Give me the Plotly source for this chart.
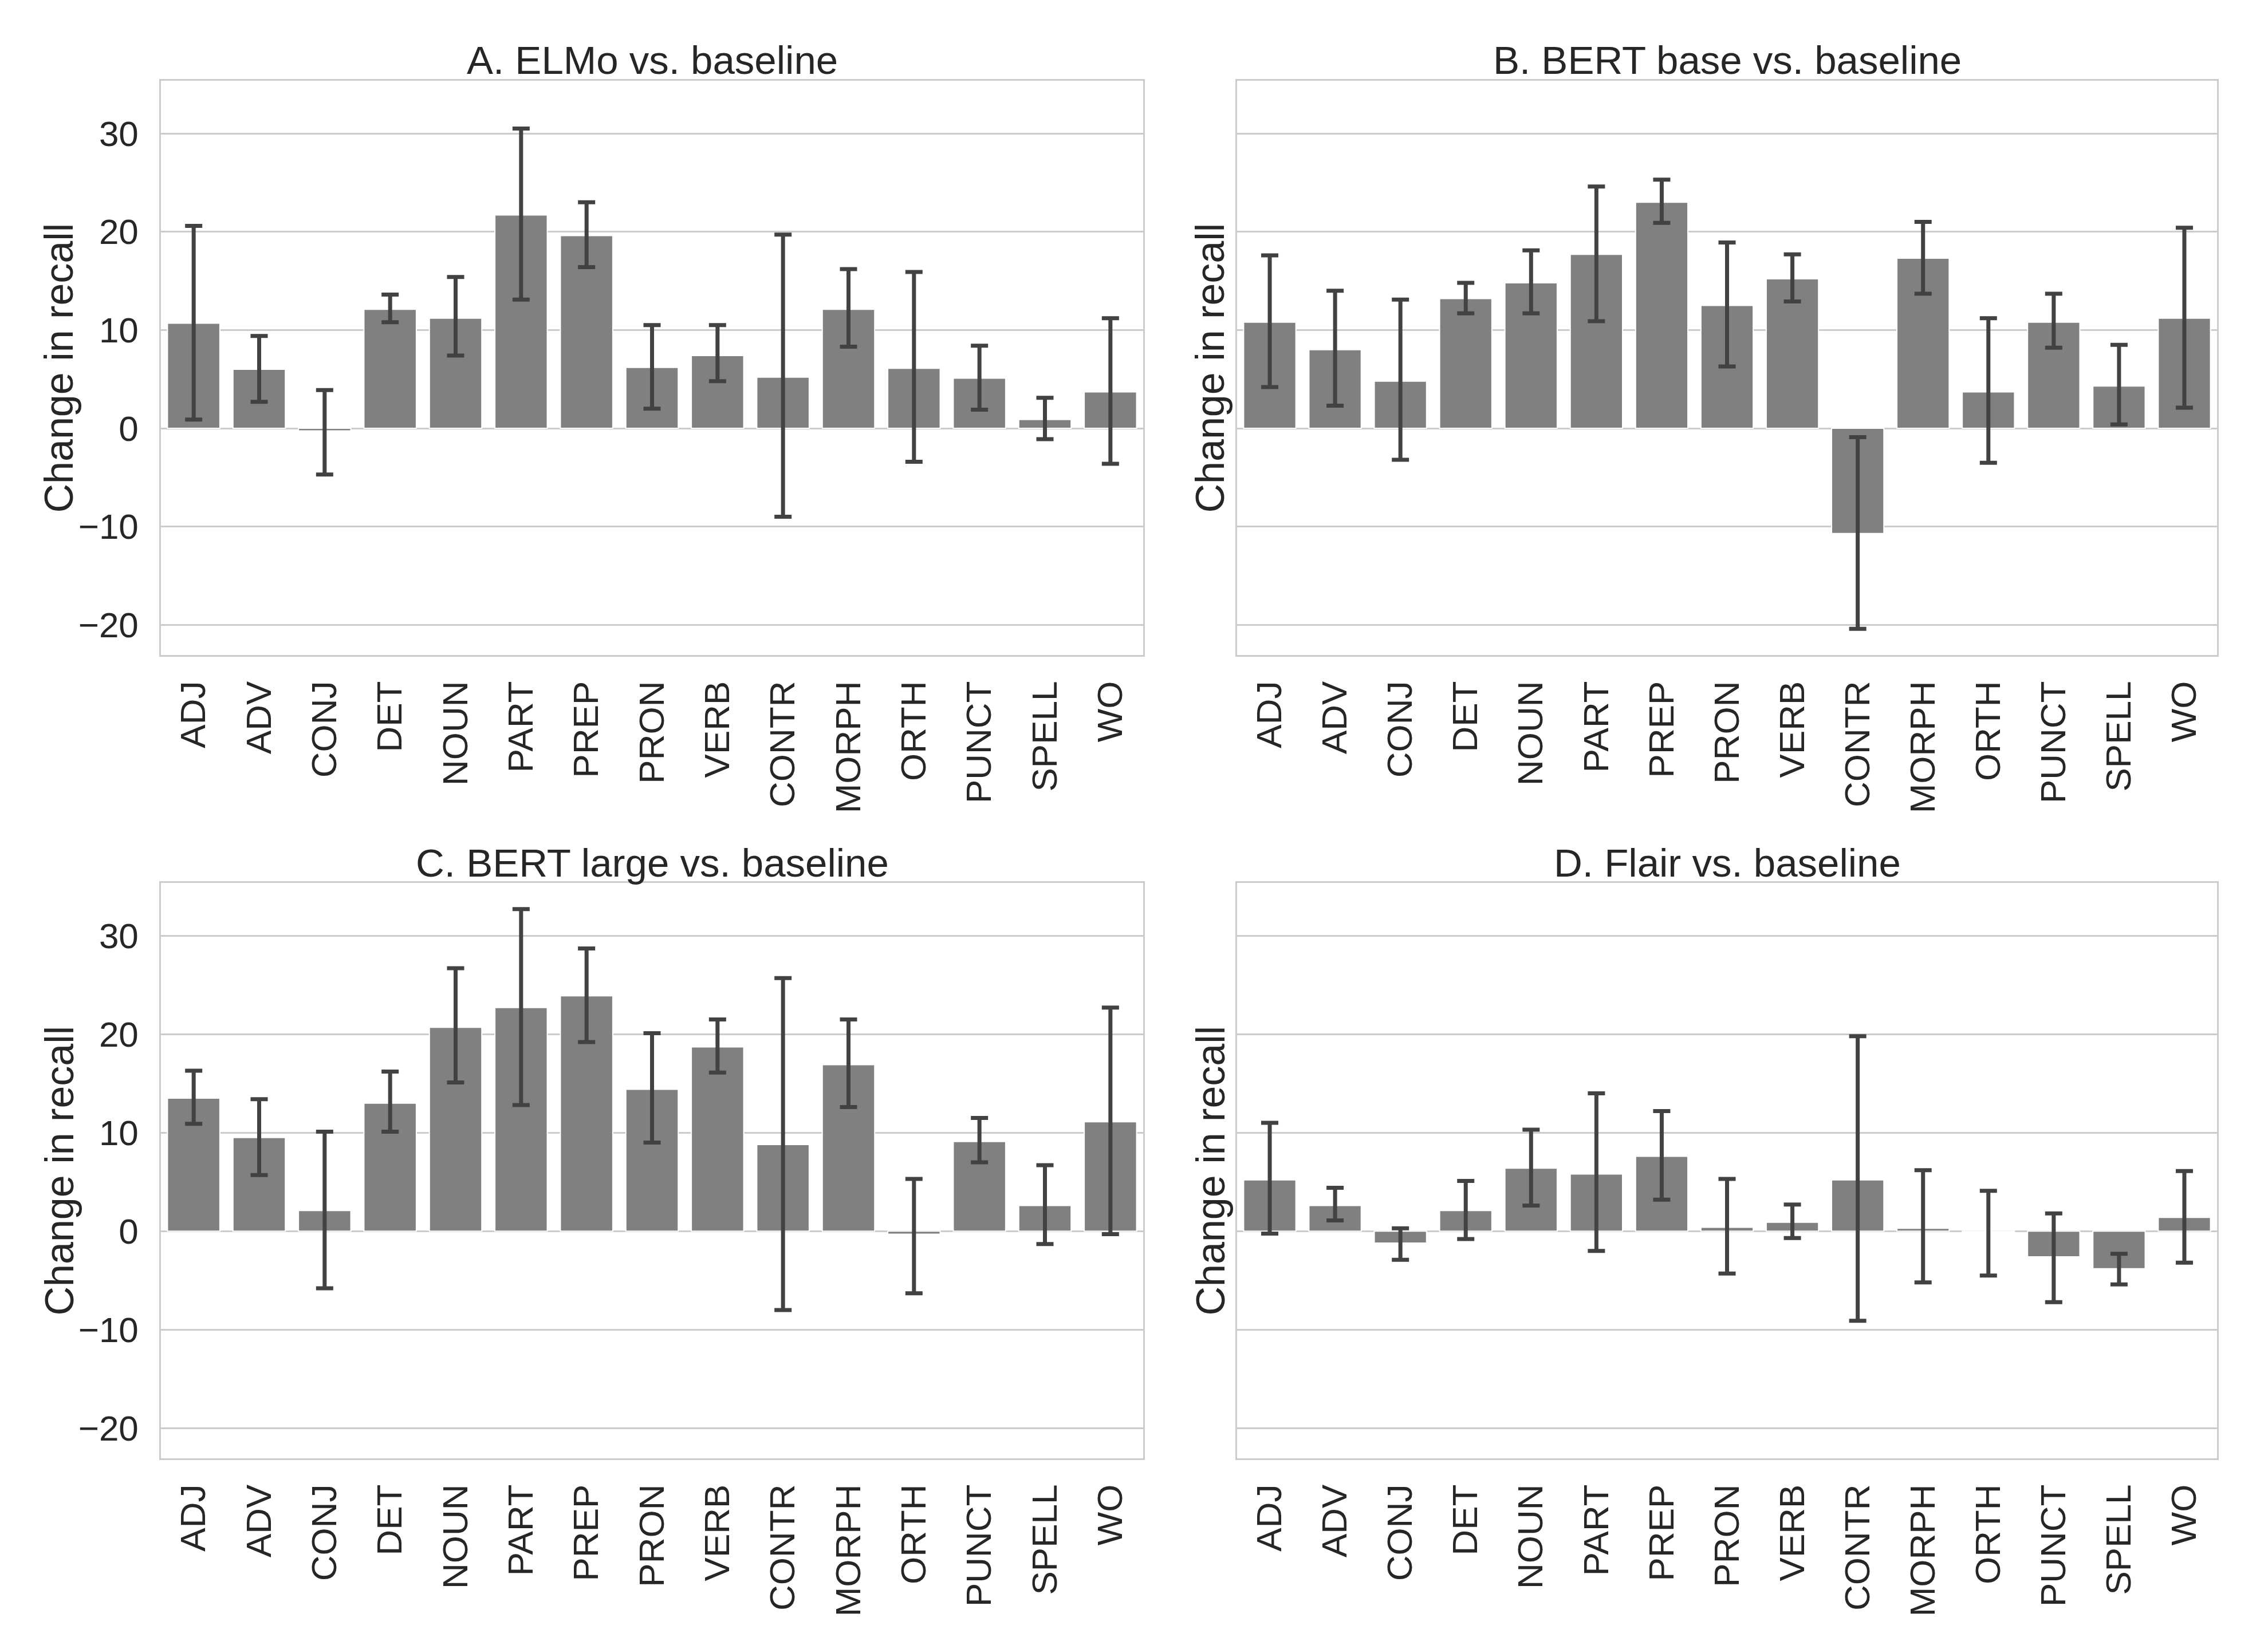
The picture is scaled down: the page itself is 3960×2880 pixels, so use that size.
import plotly.graph_objects as go

categories = ["ADJ", "ADV", "CONJ", "DET", "NOUN", "PART", "PREP", "PRON", "VERB",
              "CONTR", "MORPH", "ORTH", "PUNCT", "SPELL", "WO"]

titles = ["A. ELMo vs. baseline", "B. BERT base vs. baseline",
          "C. BERT large vs. baseline", "D. Flair vs. baseline"]

A_mean = [10.7, 6.0, -0.25, 12.1, 11.2, 21.7, 19.6, 6.2, 7.4, 5.2, 12.1, 6.1, 5.1, 0.9, 3.7]
A_low = [0.9, 2.7, -4.7, 10.8, 7.4, 13.1, 16.4, 2.0, 4.8, -9.0, 8.3, -3.4, 1.9, -1.1, -3.6]
A_high = [20.6, 9.4, 3.9, 13.6, 15.4, 30.5, 23.0, 10.5, 10.5, 19.7, 16.2, 15.9, 8.4, 3.1, 11.2]

B_mean = [10.8, 8.0, 4.8, 13.2, 14.8, 17.7, 23.0, 12.5, 15.2, -10.7, 17.3, 3.7, 10.8, 4.3, 11.2]
B_low = [4.2, 2.3, -3.2, 11.7, 11.7, 10.9, 20.9, 6.3, 12.9, -20.4, 13.7, -3.5, 8.2, 0.4, 2.1]
B_high = [17.6, 14.0, 13.1, 14.8, 18.1, 24.6, 25.3, 18.9, 17.7, -0.9, 21.0, 11.2, 13.7, 8.5, 20.4]

C_mean = [13.5, 9.5, 2.1, 13.0, 20.7, 22.7, 23.9, 14.4, 18.7, 8.8, 16.9, -0.3, 9.1, 2.6, 11.1]
C_low = [10.9, 5.7, -5.8, 10.1, 15.1, 12.8, 19.2, 9.0, 16.1, -8.0, 12.6, -6.3, 7.0, -1.3, -0.3]
C_high = [16.3, 13.4, 10.1, 16.2, 26.7, 32.7, 28.7, 20.1, 21.5, 25.7, 21.5, 5.3, 11.5, 6.7, 22.7]

D_mean = [5.2, 2.6, -1.2, 2.1, 6.4, 5.8, 7.6, 0.4, 0.9, 5.2, 0.3, -0.05, -2.6, -3.8, 1.4]
D_low = [-0.25, 1.1, -2.9, -0.8, 2.6, -2.0, 3.2, -4.3, -0.7, -9.1, -5.2, -4.5, -7.2, -5.4, -3.2]
D_high = [11.0, 4.4, 0.3, 5.1, 10.3, 14.0, 12.2, 5.3, 2.7, 19.8, 6.2, 4.1, 1.8, -2.3, 6.1]

y_ticks = [-20, -10, 0, 10, 20, 30]
y_range = [-23.06, 35.36]
y_label = "Change in recall"

panels = [(A_mean, A_low, A_high), (B_mean, B_low, B_high),
          (C_mean, C_low, C_high), (D_mean, D_low, D_high)]

W, H = 3960, 2880
x_doms = [[281 / W, 1996 / W], [2160 / W, 3871 / W]]
y_doms = [[1 - 1144 / H, 1 - 141 / H], [1 - 2547 / H, 1 - 1542 / H]]

FONT = "Liberation Sans, Arial, sans-serif"
TXT = "#262626"
GRID = "#cccccc"

fig = go.Figure()
layout = {}
annotations = []
for i, (m, lo, hi) in enumerate(panels):
    row, col = divmod(i, 2)
    n = "" if i == 0 else str(i + 1)
    plus = [h - v for h, v in zip(hi, m)]
    minus = [v - l for v, l in zip(m, lo)]
    fig.add_trace(go.Bar(
        x=categories, y=m, xaxis="x" + n, yaxis="y" + n,
        width=0.8,
        marker=dict(color="#808080", line=dict(color="white", width=2)),
        error_y=dict(type="data", symmetric=False, array=plus, arrayminus=minus,
                     color="#424242", thickness=7, width=15),
        showlegend=False,
    ))
    layout["xaxis" + n] = dict(
        domain=x_doms[col], anchor="y" + n, type="category",
        categoryorder="array", categoryarray=categories,
        range=[-0.5, len(categories) - 0.5],
        showgrid=False, showline=True, mirror=True, linecolor=GRID, linewidth=2.5,
        tickangle=-90, ticks="outside", ticklen=18, tickcolor="rgba(0,0,0,0)",
        tickfont=dict(family=FONT, size=62, color=TXT),
    )
    layout["yaxis" + n] = dict(
        domain=y_doms[row], anchor="x" + n, range=y_range,
        tickvals=y_ticks, showgrid=True, gridcolor=GRID, gridwidth=2.5,
        zeroline=False, showline=True, mirror=True, linecolor=GRID, linewidth=2.5,
        showticklabels=(col == 0), ticks="outside", ticklen=24,
        tickcolor="rgba(0,0,0,0)",
        tickfont=dict(family=FONT, size=62, color=TXT),
    )
    xc = (x_doms[col][0] + x_doms[col][1]) / 2
    ty = [1 - 106 / H, 1 - 1507 / H][row]
    annotations.append(dict(
        text=titles[i], xref="paper", yref="paper", x=xc, y=ty,
        xanchor="center", yanchor="middle", showarrow=False,
        font=dict(family=FONT, size=69, color=TXT)))
    lx = [103 / W, 2113 / W][col]
    ly = (y_doms[row][0] + y_doms[row][1]) / 2
    annotations.append(dict(
        text=y_label, xref="paper", yref="paper", x=lx, y=ly,
        xanchor="center", yanchor="middle", textangle=-90, showarrow=False,
        font=dict(family=FONT, size=70, color=TXT)))

fig.update_layout(
    width=W, height=H, margin=dict(l=0, r=0, t=0, b=0),
    paper_bgcolor="white", plot_bgcolor="white",
    bargap=0.2, annotations=annotations, **layout)

fig.write_html("out.html")
